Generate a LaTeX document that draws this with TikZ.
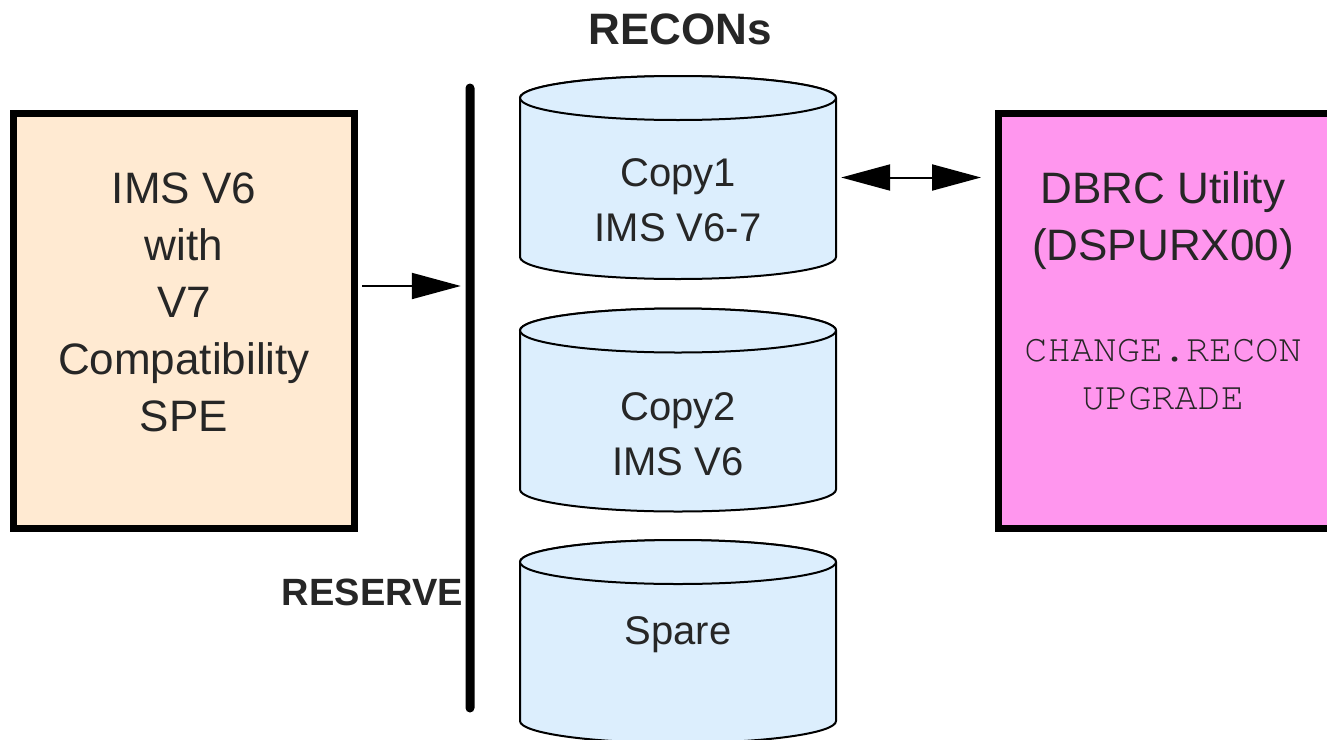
\documentclass[tikz,border=0pt]{standalone}
\usepackage{fontspec}
\setmainfont{Liberation Sans}
\setmonofont{texgyrecursor-regular.otf}
\usetikzlibrary{arrows.meta}
\definecolor{imsfill}{HTML}{FFEAD2}
\definecolor{dbrcfill}{HTML}{FF96EE}
\definecolor{reconfill}{HTML}{DCEEFD}
\definecolor{texto}{HTML}{262626}
\begin{document}
\begin{tikzpicture}[x=1pt,y=-1pt]
\tikzstyle{caixa}=[draw=black, line width=7pt, minimum height=415pt, inner sep=0]
\tikzstyle{disco}=[draw=black, line width=2pt, fill=reconfill]
\tikzstyle{area}=[minimum width=316pt, minimum height=202pt, inner sep=0]
\tikzstyle{rotulo}=[text=texto, align=center, inner sep=0]
\tikzstyle{seta}=[line width=2pt, -{Triangle[length=49pt, width=26pt]}]
\useasboundingbox (0,0) rectangle (1327,739);
\node[caixa, fill=imsfill, minimum width=341pt] (ims) at (184,321) {};
\node[caixa, fill=dbrcfill, minimum width=333.5pt] (dbrc) at (1165.25,321) {};
\node[fill=black, minimum width=9pt, minimum height=629pt, rounded corners=4.5pt, inner sep=0] (barra) at (470,398) {};
\foreach \n/\y/\ty/\t in {copy1/177.5/200/{Copy1\\IMS V6-7}, copy2/410/434.5/{Copy2\\IMS V6}, spare/641.5/634.7/Spare}{
\draw[disco] (520,\y-79.5) -- (520,\y+79.5) arc[start angle=180, end angle=0, x radius=158, y radius=22]
  -- (836,\y-79.5) arc[start angle=0, end angle=-180, x radius=158, y radius=22] -- cycle;
\draw[disco] (678,\y-79.5) ellipse[x radius=158, y radius=22];
\node[area] (\n) at (678,\y) {};
\node[rotulo, font=\fontsize{40}{55}\selectfont] at (678,\ty) {\t};
}
\node[rotulo, font=\fontsize{44}{57}\selectfont] (imstexto) at (184,302) {IMS V6\\with\\V7\\Compatibility\\SPE};
\node[rotulo, font=\fontsize{44}{57}\selectfont] (dbrctexto) at (1163,220.4) {DBRC Utility\\(DSPURX00)};
\node[rotulo, font=\ttfamily\fontsize{38.5}{48}\selectfont] (comando) at (1163,375) {CHANGE.RECON\\UPGRADE};
\node[rotulo, font=\bfseries\fontsize{44}{50}\selectfont, anchor=base] (recons) at (680,44) {RECONs};
\node[rotulo, font=\bfseries\fontsize{38}{44}\selectfont, anchor=base east] (reserve) at (463,605) {RESERVE};
\draw[seta, shorten <=4pt, shorten >=4.5pt]([yshift=35pt]ims.east)--([yshift=35pt]ims.east -| barra.west);
\draw[seta, {Triangle[length=49pt, width=26pt]}-{Triangle[length=49pt, width=26pt]}, shorten <=5pt, shorten >=14pt](copy1.east)--(copy1.east -| dbrc.west);
\end{tikzpicture}
\end{document}
